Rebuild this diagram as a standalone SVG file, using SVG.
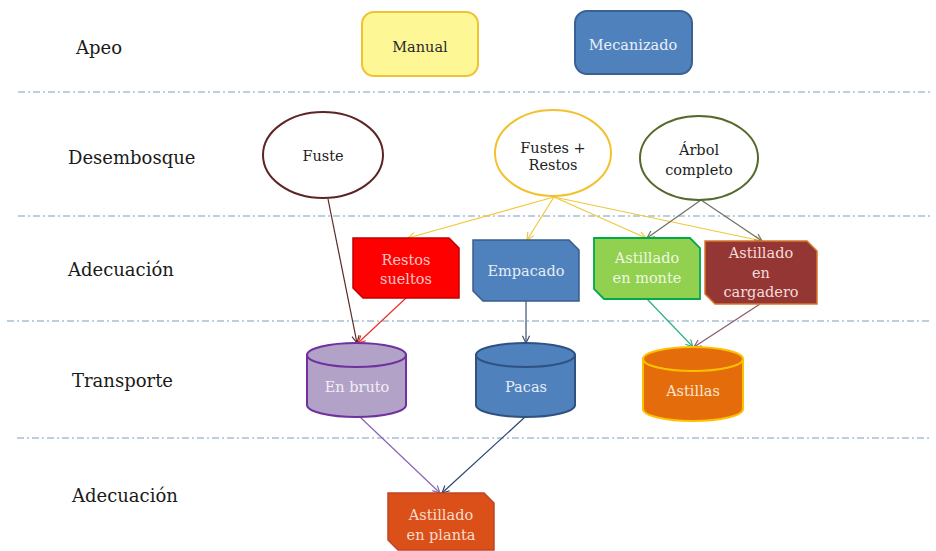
<svg xmlns="http://www.w3.org/2000/svg" width="936" height="551" viewBox="0 0 936 551">
<style>
.lbl{font-family:"DejaVu Serif","Liberation Serif",serif;font-size:18px;fill:#1a1a1a}
.t{font-family:"DejaVu Serif","Liberation Serif",serif;font-size:14.5px;text-anchor:middle}
.sep{stroke:#7d9dc4;stroke-width:1.2;stroke-dasharray:7 3 2 3;fill:none}
.c{fill:none;stroke-width:1.2}
</style>
<defs>
<marker id="mBr" viewBox="0 0 10 10" refX="9" refY="5" markerWidth="9" markerHeight="9" orient="auto" markerUnits="userSpaceOnUse"><path d="M1,1 L9,5 L1,9" fill="none" stroke="#5a2828" stroke-width="1.3"/></marker>
<marker id="mRd" viewBox="0 0 10 10" refX="9" refY="5" markerWidth="9" markerHeight="9" orient="auto" markerUnits="userSpaceOnUse"><path d="M1,1 L9,5 L1,9" fill="none" stroke="#e8302a" stroke-width="1.3"/></marker>
<marker id="mYe" viewBox="0 0 10 10" refX="9" refY="5" markerWidth="9" markerHeight="9" orient="auto" markerUnits="userSpaceOnUse"><path d="M1,1 L9,5 L1,9" fill="none" stroke="#efc83c" stroke-width="1.3"/></marker>
<marker id="mGy" viewBox="0 0 10 10" refX="9" refY="5" markerWidth="9" markerHeight="9" orient="auto" markerUnits="userSpaceOnUse"><path d="M1,1 L9,5 L1,9" fill="none" stroke="#6e7060" stroke-width="1.3"/></marker>
<marker id="mBl" viewBox="0 0 10 10" refX="9" refY="5" markerWidth="9" markerHeight="9" orient="auto" markerUnits="userSpaceOnUse"><path d="M1,1 L9,5 L1,9" fill="none" stroke="#3a5070" stroke-width="1.3"/></marker>
<marker id="mGn" viewBox="0 0 10 10" refX="9" refY="5" markerWidth="9" markerHeight="9" orient="auto" markerUnits="userSpaceOnUse"><path d="M1,1 L9,5 L1,9" fill="none" stroke="#2fb07c" stroke-width="1.3"/></marker>
<marker id="mMv" viewBox="0 0 10 10" refX="9" refY="5" markerWidth="9" markerHeight="9" orient="auto" markerUnits="userSpaceOnUse"><path d="M1,1 L9,5 L1,9" fill="none" stroke="#8a5a6a" stroke-width="1.3"/></marker>
<marker id="mPu" viewBox="0 0 10 10" refX="9" refY="5" markerWidth="9" markerHeight="9" orient="auto" markerUnits="userSpaceOnUse"><path d="M1,1 L9,5 L1,9" fill="none" stroke="#8a64b4" stroke-width="1.3"/></marker>
<marker id="mNv" viewBox="0 0 10 10" refX="9" refY="5" markerWidth="9" markerHeight="9" orient="auto" markerUnits="userSpaceOnUse"><path d="M1,1 L9,5 L1,9" fill="none" stroke="#2c4470" stroke-width="1.3"/></marker>
</defs>
<rect width="936" height="551" fill="#ffffff"/>

<g id="separators">
<line class="sep" x1="18" y1="92" x2="932" y2="92"/>
<line class="sep" x1="18" y1="216" x2="932" y2="216"/>
<line class="sep" x1="7" y1="321" x2="932" y2="321"/>
<line class="sep" x1="17" y1="438" x2="932" y2="438"/>
</g>

<g id="row-labels">
<text class="lbl" x="76" y="54">Apeo</text>
<text class="lbl" x="68" y="164">Desembosque</text>
<text class="lbl" x="68" y="276">Adecuación</text>
<text class="lbl" x="72" y="387">Transporte</text>
<text class="lbl" x="72" y="502">Adecuación</text>
</g>

<g id="connectors">
<path class="c" stroke="#5a2828" marker-end="url(#mBr)" d="M328,199 L357,343"/>
<path class="c" stroke="#e8302a" marker-end="url(#mRd)" d="M406,298 L358,343"/>
<path class="c" stroke="#efc83c" marker-end="url(#mYe)" d="M554,197 L408,238"/>
<path class="c" stroke="#efc83c" marker-end="url(#mYe)" d="M554,197 L527,240"/>
<path class="c" stroke="#efc83c" marker-end="url(#mYe)" d="M554,197 L646,238"/>
<path class="c" stroke="#efc83c" marker-end="url(#mYe)" d="M554,197 L762,241"/>
<path class="c" stroke="#6e7060" marker-end="url(#mGy)" d="M701,200 L647,238"/>
<path class="c" stroke="#6e7060" marker-end="url(#mGy)" d="M701,200 L762,241"/>
<path class="c" stroke="#3a5070" marker-end="url(#mBl)" d="M526,301 L526,343"/>
<path class="c" stroke="#2fb07c" marker-end="url(#mGn)" d="M647,299 L693,347"/>
<path class="c" stroke="#8a5a6a" marker-end="url(#mMv)" d="M760,304 L694,347"/>
<path class="c" stroke="#8a64b4" marker-end="url(#mPu)" d="M360,417 L440,493"/>
<path class="c" stroke="#2c4470" marker-end="url(#mNv)" d="M525,417 L442,493"/>
</g>

<g id="manual">
<rect x="362" y="12" width="116" height="64" rx="12" fill="#fdf895" stroke="#f0c232" stroke-width="2"/>
<text class="t" x="420" y="52" fill="#2a2a2a">Manual</text>
</g>
<g id="mecanizado">
<rect x="575" y="11" width="117" height="63" rx="12" fill="#4f81bd" stroke="#3a6193" stroke-width="2"/>
<text class="t" x="633" y="50" fill="#e9eff8">Mecanizado</text>
</g>

<g id="fuste">
<ellipse cx="323" cy="155" rx="60" ry="43" fill="#ffffff" stroke="#5c2424" stroke-width="2"/>
<text class="t" x="323" y="161" fill="#222">Fuste</text>
</g>
<g id="fustes-restos">
<ellipse cx="553" cy="153" rx="58" ry="43" fill="#ffffff" stroke="#f2c12e" stroke-width="2"/>
<text class="t" x="553" y="153" fill="#222">Fustes +</text>
<text class="t" x="553" y="170" fill="#222">Restos</text>
</g>
<g id="arbol-completo">
<ellipse cx="699" cy="158" rx="59" ry="42" fill="#ffffff" stroke="#56692c" stroke-width="2"/>
<text class="t" x="699" y="155" fill="#222">Árbol</text>
<text class="t" x="699" y="175" fill="#222">completo</text>
</g>

<g id="restos-sueltos">
<path d="M353,238 H449 L459,248 V298 H363 L353,288 Z" fill="#ff0000" stroke="#c00000" stroke-width="1.5"/>
<text class="t" x="406" y="265" fill="#f6c6c4">Restos</text>
<text class="t" x="406" y="284" fill="#f6c6c4">sueltos</text>
</g>
<g id="empacado">
<path d="M473,240 H569 L579,250 V301 H483 L473,291 Z" fill="#4f81bd" stroke="#385d8a" stroke-width="1.5"/>
<text class="t" x="526" y="276" fill="#e6edf7">Empacado</text>
</g>
<g id="astillado-monte">
<path d="M594,238 H690 L700,248 V299 H604 L594,289 Z" fill="#92d050" stroke="#00a84e" stroke-width="1.8"/>
<text class="t" x="647" y="263" fill="#eef7e0">Astillado</text>
<text class="t" x="647" y="283" fill="#eef7e0">en monte</text>
</g>
<g id="astillado-cargadero">
<path d="M705,241 H807 L817,251 V304 H715 L705,294 Z" fill="#943634" stroke="#d8772a" stroke-width="1.5"/>
<text class="t" x="761" y="258" fill="#f4dcda">Astillado</text>
<text class="t" x="761" y="278" fill="#f4dcda">en</text>
<text class="t" x="761" y="297" fill="#f4dcda">cargadero</text>
</g>

<g id="en-bruto">
<path d="M307,355 V405 A49.5,12 0 0 0 406,405 V355 Z" fill="#b3a2c7" stroke="#7030a0" stroke-width="2"/>
<ellipse cx="356.5" cy="355" rx="49.5" ry="12" fill="#b3a2c7" stroke="#7030a0" stroke-width="2"/>
<text class="t" x="357" y="392" fill="#f2eef7">En bruto</text>
</g>
<g id="pacas">
<path d="M476,355 V405 A49.5,12 0 0 0 575,405 V355 Z" fill="#4f81bd" stroke="#2f5280" stroke-width="2"/>
<ellipse cx="525.5" cy="355" rx="49.5" ry="12" fill="#4f81bd" stroke="#2f5280" stroke-width="2"/>
<text class="t" x="526" y="392" fill="#e6edf7">Pacas</text>
</g>
<g id="astillas">
<path d="M643,359 V409 A50,12 0 0 0 743,409 V359 Z" fill="#e46c0a" stroke="#ffc000" stroke-width="2"/>
<ellipse cx="693" cy="359" rx="50" ry="12" fill="#e46c0a" stroke="#ffc000" stroke-width="2"/>
<text class="t" x="693" y="396" fill="#fbe4d2">Astillas</text>
</g>

<g id="astillado-planta">
<path d="M388,493 H484 L494,503 V550 H398 L388,540 Z" fill="#da5018" stroke="#c0442a" stroke-width="1.5"/>
<text class="t" x="441" y="520" fill="#f8dccd">Astillado</text>
<text class="t" x="441" y="540" fill="#f8dccd">en  planta</text>
</g>
</svg>
